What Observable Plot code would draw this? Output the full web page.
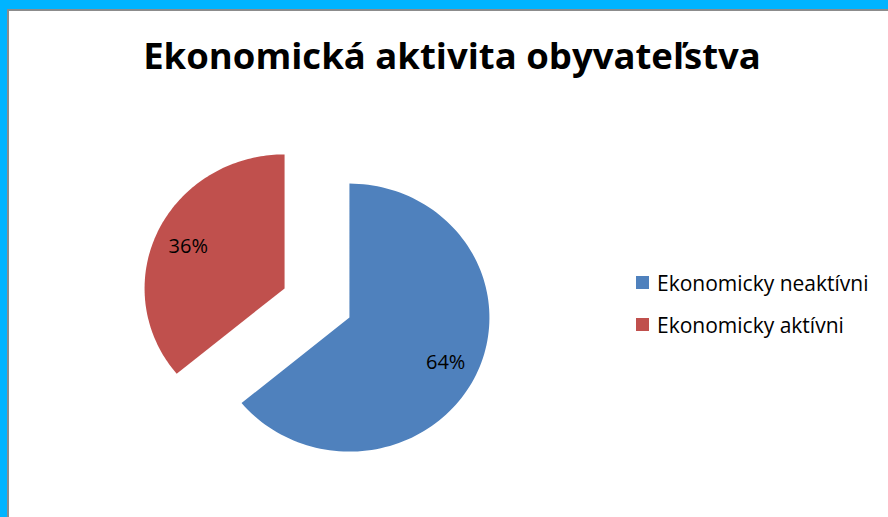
<!DOCTYPE html>
<html>
<head>
<meta charset="utf-8">
<script src="https://cdn.jsdelivr.net/npm/d3@7"></script>
<script src="https://cdn.jsdelivr.net/npm/@observablehq/plot@0.6"></script>
<style>
  html, body { margin: 0; padding: 0; background: #fff; }
  #frame { position: relative; width: 888px; height: 517px; overflow: hidden; background: #fff; font-family: "Open Sans", Lato, sans-serif; }
  #bandTop { position: absolute; left: 0; top: 0; width: 888px; height: 9px; background: #00B4FF; }
  #lineTop { position: absolute; left: 7px; top: 9px; width: 881px; height: 2px; background: #8c8c8c; }
  #bandLeft { position: absolute; left: 0; top: 0; width: 7px; height: 517px; background: #00B4FF; }
  #lineLeft { position: absolute; left: 7px; top: 9px; width: 2px; height: 508px; background: #8c8c8c; }
  #chart { position: absolute; left: 0; top: 0; }
  #title { position: absolute; left: 0; width: 904px; top: 30px; text-align: center; font-weight: bold; font-size: 36.5px; line-height: normal; color: #000; white-space: nowrap; }
  #legend { position: absolute; left: 636px; top: 261.5px; font-size: 21px; color: #000; white-space: nowrap; }
  .item { display: flex; align-items: center; height: 42px; }
  .sw { width: 13px; height: 13px; margin-right: 8px; }
</style>
</head>
<body>
<div id="frame">
  <div id="chart"></div>
  <div id="bandTop"></div><div id="bandLeft"></div><div id="lineTop"></div><div id="lineLeft"></div>
  <div id="title">Ekonomická aktivita obyvateľstva</div>
  <div id="legend"></div>
</div>
<script>
const categories = ["Ekonomicky neaktívni", "Ekonomicky aktívni"];
const values = [64, 36];
const labels = ["64%", "36%"];
const colors = ["#4F81BD", "#C0504D"];

const explode = 0.256;
const labelRadius = 0.76;

const pie = d3.pie().sort(null).value(d => d.value)(categories.map((c, i) => ({category: c, value: values[i], label: labels[i]})));

const polys = [];
const labelPts = [];
pie.forEach(s => {
  const mid = (s.startAngle + s.endAngle) / 2;
  const ox = explode * Math.sin(mid), oy = -explode * Math.cos(mid);
  polys.push({category: s.data.category, x: ox, y: oy});
  const n = 120;
  for (let k = 0; k <= n; k++) {
    const a = s.startAngle + (s.endAngle - s.startAngle) * k / n;
    polys.push({category: s.data.category, x: ox + Math.sin(a), y: oy - Math.cos(a)});
  }
  polys.push({category: s.data.category, x: ox, y: oy});
  labelPts.push({label: s.data.label, x: ox + labelRadius * Math.sin(mid), y: oy - labelRadius * Math.cos(mid)});
});

const cx = 316.5, cy = 302.5, rx = 140, ry = 134;
const chart = Plot.plot({
  width: 888, height: 517,
  margin: 0,
  x: {domain: [-1, 1], range: [cx - rx, cx + rx], axis: null},
  y: {domain: [-1, 1], range: [cy - ry, cy + ry], axis: null},
  color: {domain: categories, range: colors},
  style: {background: "transparent"},
  marks: [
    Plot.line(polys, {x: "x", y: "y", z: "category", fill: "category", stroke: null}),
    Plot.text(labelPts, {x: "x", y: "y", text: "label", fontSize: 20, dy: 2, fill: "#000", fontFamily: "'Open Sans', Lato, sans-serif", letterSpacing: 0.8})
  ]
});
document.getElementById("chart").appendChild(chart);

const legend = document.getElementById("legend");
categories.forEach((c, i) => {
  const item = document.createElement("div");
  item.className = "item";
  const sw = document.createElement("div");
  sw.className = "sw";
  sw.style.background = colors[i];
  const t = document.createElement("span");
  t.textContent = c;
  item.appendChild(sw); item.appendChild(t);
  legend.appendChild(item);
});
</script>
</body>
</html>
